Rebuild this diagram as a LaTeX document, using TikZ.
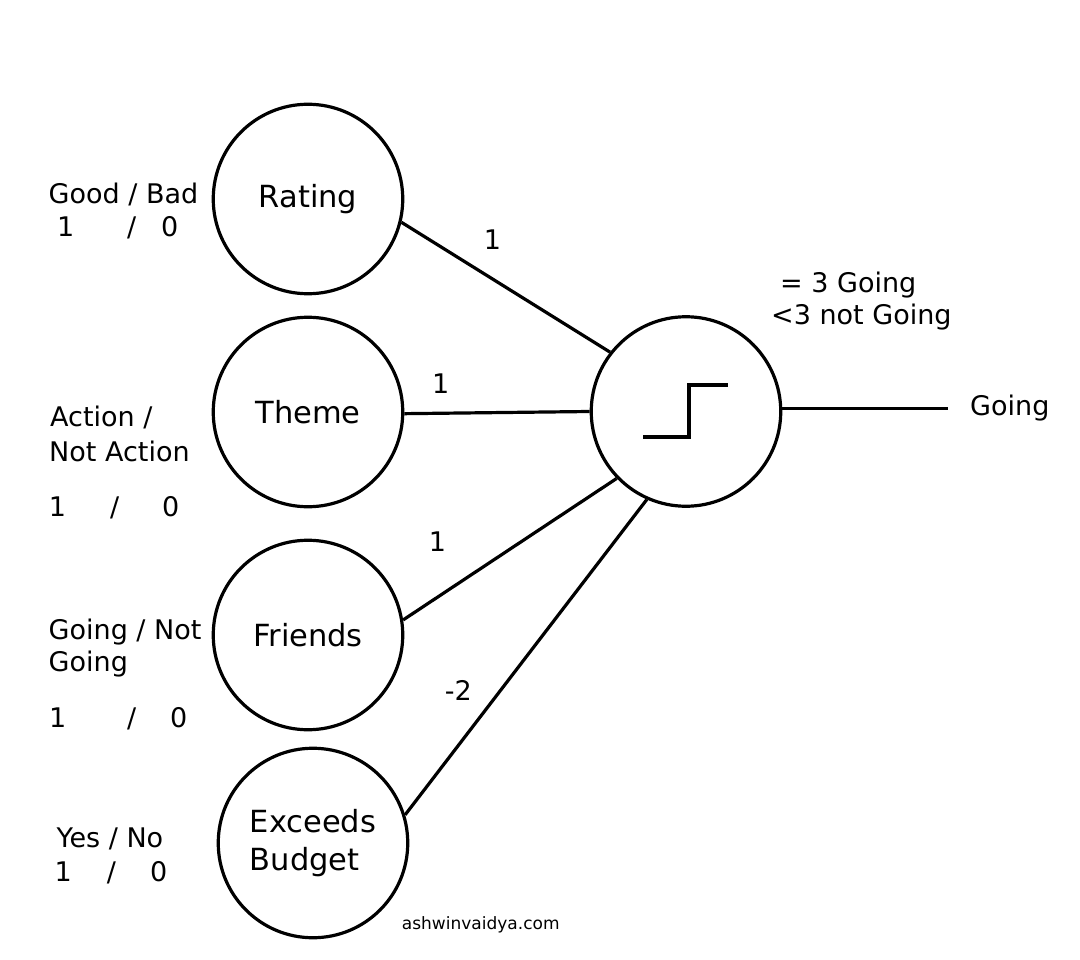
\documentclass[tikz,border=0pt]{standalone}
\usepackage{fontspec}
\setmainfont{DejaVu Sans}
\begin{document}
\begin{tikzpicture}[x=1pt,y=-1pt,
  neuron/.style={circle, draw, line width=3.2pt, minimum size=189.5pt, inner sep=0pt, font=\fontsize{30.5}{37.3}\selectfont},
  lbl/.style={anchor=base west, inner sep=0pt, font=\fontsize{27}{32}\selectfont},
  small/.style={anchor=base west, inner sep=0pt, font=\fontsize{17}{20}\selectfont},
  wire/.style={line width=3.2pt}]
\useasboundingbox (0,0) rectangle (1080,960);
\fill[white] (0,0) rectangle (1080,960);
% neurons
\node[neuron] (rating) at (308,199) {Rating};
\node[neuron] (theme) at (308,412) {Theme};
\node[neuron] (friends) at (308,635) {Friends};
\node[neuron, align=left] (budget) at (313,843) {Exceeds\\Budget};
\node[neuron] (out) at (686,411.5) {};
% step function
\draw[wire] (643,437) -- (689,437) -- (689,385) -- (728,385);
% connectors
\coordinate (goal) at (948,408.5);
\draw[wire] (rating.-14.5) -- (out.142.3);
\draw[wire] (theme.-1.8) -- (out.180);
\draw[wire] (friends.9.4) -- (out.224);
\draw[wire] (budget.17.9) -- (out.246.8);
\draw[wire] (out.east |- goal) -- (goal);
% input labels
\node[lbl] (l1a) at (48.5,203.3) {Good / Bad};
\node[lbl] (l1b) at (57,236.7) {\makebox[70pt][l]{1}\makebox[34pt][l]{/}0};
\node[lbl] (l2a) at (50,426.7) {Action /};
\node[lbl] (l2b) at (49,461) {Not Action};
\node[lbl] (l2c) at (48.7,516) {\makebox[61.3pt][l]{1}\makebox[52pt][l]{/}0};
\node[lbl] (l3a) at (48.5,639) {Going / Not};
\node[lbl] (l3b) at (48.5,671.7) {Going};
\node[lbl] (l3c) at (49,727) {\makebox[78pt][l]{1}\makebox[43pt][l]{/}0};
\node[lbl] (l4a) at (56.5,847.7) {Yes / No};
\node[lbl] (l4b) at (54.3,881.7) {\makebox[52.4pt][l]{1}\makebox[43.3pt][l]{/}0};
% weights
\node[lbl] (w1) at (483.7,250) {1};
\node[lbl] (w2) at (432,393) {1};
\node[lbl] (w3) at (428.7,551.7) {1};
\node[lbl] (w4) at (444.7,700) {-2};
% threshold and output
\node[lbl] (t1) at (780,292.3) {= 3 Going};
\node[lbl] (t2) at (771,325) {<3 not Going};
\node[lbl] (res) at (970,415) {Going};
\node[small] (credit) at (401.7,929.3) {ashwinvaidya.com};
\end{tikzpicture}
\end{document}
